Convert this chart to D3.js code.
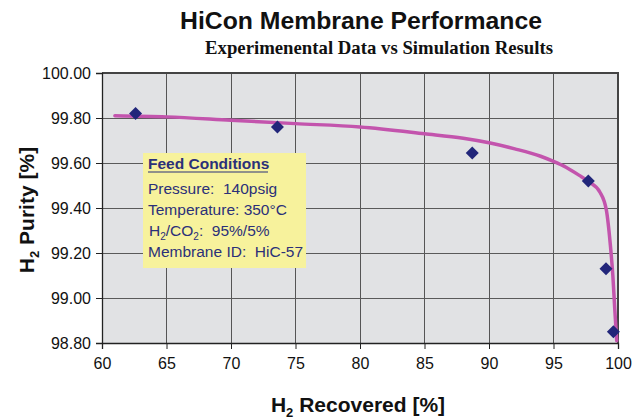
<!DOCTYPE html>
<html><head><meta charset="utf-8">
<script src="https://cdn.jsdelivr.net/npm/d3@7"></script>
<style>body{margin:0;background:#fff} text{white-space:pre}</style>
</head><body>
<svg id="c" width="635" height="420"></svg>
<script>
const expRecovered = [62.6, 73.6, 88.7, 97.7, 99.07, 99.64];
const expPurity    = [99.82, 99.76, 99.645, 99.52, 99.13, 98.85];
const simRecovered = [61, 65, 70, 75, 80, 85, 88, 90, 92, 94, 95, 96, 97, 97.7, 98.6, 99.1, 99.4, 99.6, 99.75, 99.9];
const simPurity    = [99.81, 99.805, 99.79, 99.775, 99.76, 99.73, 99.71, 99.69, 99.663, 99.63, 99.607, 99.58, 99.545, 99.518, 99.47, 99.39, 99.24, 99.10, 98.95, 98.81];
const xTicks = [60, 65, 70, 75, 80, 85, 90, 95, 100];
const yTicks = [98.8, 99.0, 99.2, 99.4, 99.6, 99.8, 100.0];
const legendLines = ["Pressure:  140psig", "Temperature: 350°C", "H2/CO2:  95%/5%", "Membrane ID:  HiC-57"];

const svg = d3.select("#c");
const L = 102, R = 618, T = 73, B = 343;
const x = d3.scaleLinear().domain([60, 100]).range([L, R]);
const y = d3.scaleLinear().domain([98.8, 100]).range([B, T]);

svg.append("rect").attr("x", L).attr("y", T).attr("width", R - L).attr("height", B - T).attr("fill", "#e1e2e4");

// gridlines
svg.append("g").selectAll("line").data(xTicks.slice(1, -1)).join("line")
  .attr("x1", d => x(d)).attr("x2", d => x(d)).attr("y1", T).attr("y2", B)
  .attr("stroke", "#555").attr("stroke-width", 1).attr("shape-rendering", "crispEdges");
svg.append("g").selectAll("line").data(yTicks.slice(1, -1)).join("line")
  .attr("x1", L).attr("x2", R).attr("y1", d => y(d)).attr("y2", d => y(d))
  .attr("stroke", "#5a5a5a").attr("stroke-width", 1).attr("shape-rendering", "crispEdges");

// border top/right
svg.append("path").attr("d", `M${L},${T}H${R}V${B}`).attr("fill", "none")
  .attr("stroke", "#444").attr("stroke-width", 2);

// axes
const font = "'Liberation Sans', Arial, sans-serif";
const xAxis = svg.append("g").attr("transform", `translate(0,${B})`)
  .call(d3.axisBottom(x).tickValues(xTicks).tickSize(6).tickPadding(6).tickFormat(d3.format("d")));
const yAxis = svg.append("g").attr("transform", `translate(${L},0)`)
  .call(d3.axisLeft(y).tickValues(yTicks).tickSize(6).tickPadding(4).tickFormat(d3.format(".2f")));
[xAxis, yAxis].forEach(a => {
  a.select(".domain").attr("stroke", "#222").attr("stroke-width", 1.3);
  a.selectAll(".tick line").attr("stroke", "#222");
  a.selectAll("text").attr("font-family", font).attr("font-size", 16).attr("fill", "#111");
});
xAxis.selectAll("text").attr("dy", "0.9em");
yAxis.selectAll("text").attr("dx", "-1");

// simulation curve
const line = d3.line().x(d => x(d[0])).y(d => y(d[1])).curve(d3.curveMonotoneX);
svg.append("path").datum(simRecovered.map((v, i) => [v, simPurity[i]]))
  .attr("d", line).attr("fill", "none").attr("stroke", "#c354ad").attr("stroke-width", 3.5)
  .attr("stroke-linecap", "round");

// experimental points
svg.append("g").selectAll("path").data(expRecovered.map((v, i) => [v, expPurity[i]])).join("path")
  .attr("transform", d => `translate(${x(d[0])},${y(d[1])})`)
  .attr("d", "M0,-6.5L6.5,0L0,6.5L-6.5,0Z").attr("fill", "#22267a");

// legend box
const lg = svg.append("g");
lg.append("rect").attr("x", 143).attr("y", 153).attr("width", 163).attr("height", 115).attr("fill", "#f7f29c");
const tc = "#2b3079";
lg.append("text").attr("x", 148).attr("y", 169).attr("font-family", font).attr("font-weight", "bold")
  .attr("font-size", 15.5).attr("fill", tc).text("Feed Conditions");
lg.append("line").attr("x1", 148).attr("x2", 268).attr("y1", 172).attr("y2", 172).attr("stroke", tc).attr("stroke-width", 1.2);
const ys = [194, 215, 236, 257];
legendLines.forEach((t, i) => {
  const tx = lg.append("text").attr("x", i === 2 ? 149 : 148).attr("y", ys[i]).attr("font-family", font)
    .attr("font-size", 15.5).attr("fill", tc);
  if (i === 2) {
    tx.append("tspan").text("H");
    tx.append("tspan").attr("font-size", 10).attr("dy", 4).text("2");
    tx.append("tspan").attr("dy", -4).text("/CO");
    tx.append("tspan").attr("font-size", 10).attr("dy", 4).text("2");
    tx.append("tspan").attr("dy", -4).text(":  95%/5%");
  } else tx.text(t);
});

// titles
svg.append("text").attr("x", 361).attr("y", 29).attr("text-anchor", "middle").attr("font-family", font)
  .attr("font-weight", "bold").attr("font-size", 24).attr("fill", "#111")
  .attr("textLength", 362).attr("lengthAdjust", "spacingAndGlyphs").text("HiCon Membrane Performance");
svg.append("text").attr("x", 379).attr("y", 54).attr("text-anchor", "middle")
  .attr("font-family", "'Liberation Serif', 'Times New Roman', serif")
  .attr("font-weight", "bold").attr("font-size", 19).attr("fill", "#111")
  .attr("textLength", 348).attr("lengthAdjust", "spacingAndGlyphs").text("Experimenental Data vs Simulation Results");

const xt = svg.append("text").attr("x", 358).attr("y", 412).attr("text-anchor", "middle").attr("font-family", font)
  .attr("font-weight", "bold").attr("font-size", 21).attr("fill", "#111");
xt.append("tspan").text("H");
xt.append("tspan").attr("font-size", 13).attr("dy", 5).text("2");
xt.append("tspan").attr("dy", -5).text(" Recovered [%]");

const yt = svg.append("text").attr("transform", "translate(34,210) rotate(-90)").attr("text-anchor", "middle")
  .attr("font-family", font).attr("font-weight", "bold").attr("font-size", 21).attr("fill", "#111");
yt.append("tspan").text("H");
yt.append("tspan").attr("font-size", 13).attr("dy", 5).text("2");
yt.append("tspan").attr("dy", -5).text(" Purity [%]");
</script>
</body></html>
